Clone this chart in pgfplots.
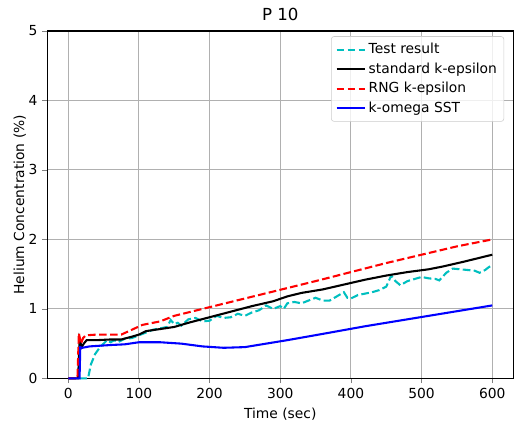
\documentclass[border=0pt]{standalone}
\usepackage{pgfplots}
\pgfplotsset{compat=1.18}
\usepackage{fontspec}
\setmainfont{DejaVu Sans}
\definecolor{mplc}{rgb}{0,0.75,0.75}
\definecolor{gridgray}{HTML}{B0B0B0}
\begin{document}
\begin{tikzpicture}
\begin{axis}[
  scale only axis,
  width=337pt,
  height=251pt,
  xmin=-30, xmax=630,
  ymin=0, ymax=5,
  xtick={0,100,...,600},
  ytick={0,1,...,5},
  grid=major,
  grid style={gridgray, line width=0.8pt},
  tick align=outside,
  major tick length=3.5pt,
  tick pos=left,
  tick label style={font=\fontsize{10}{12}\selectfont},
  /pgf/number format/assume math mode=true,
  axis line style={line width=0.8pt},
  title={P 10},
  title style={font=\fontsize{12}{14}\selectfont, yshift=-2pt},
  xlabel={Time (sec)},
  ylabel={Helium Concentration (\%)},
  ylabel style={yshift=-5pt},
  label style={font=\fontsize{10}{12}\selectfont},
  legend cell align=left,
  legend style={at={(0.98,0.985)}, anchor=north east, draw=black!20, rounded corners=2pt,
    fill=white, fill opacity=0.8, text opacity=1, font=\fontsize{10}{12}\selectfont,
    row sep=1pt, inner sep=3pt},
  legend image code/.code={\draw[#1] (0cm,0cm) -- (0.72cm,0cm);},
  every axis plot/.append style={line width=1.5pt},
  clip=false,
]
\addplot[mplc, dash pattern=on 5.55pt off 2.4pt] coordinates {
  (0,0) (28,0) (32,0.2) (38,0.35) (45,0.45) (50,0.5) (55,0.55) (60,0.52) (65,0.55) (70,0.52)
  (80,0.57) (90,0.58) (100,0.62) (110,0.66) (120,0.7) (130,0.72) (140,0.74) (145,0.84)
  (150,0.78) (155,0.8) (160,0.76) (170,0.85) (180,0.87) (190,0.82) (200,0.83) (210,0.9)
  (220,0.87) (230,0.88) (240,0.93) (250,0.9) (260,0.95) (270,0.98) (280,1.05) (290,1.0)
  (300,1.04) (305,1.0) (310,1.08) (320,1.1) (330,1.08) (340,1.12) (350,1.16) (360,1.12)
  (370,1.12) (380,1.18) (390,1.24) (395,1.16) (400,1.15) (410,1.2) (420,1.22) (430,1.24)
  (440,1.27) (450,1.32) (457,1.48) (463,1.4) (470,1.34) (480,1.4) (490,1.43) (500,1.46)
  (510,1.44) (520,1.43) (525,1.41) (535,1.52) (544,1.58) (555,1.57) (565,1.56) (575,1.55)
  (582,1.52) (590,1.56) (595,1.6) (600,1.63)
};
\addlegendentry{Test result}
\addplot[black] coordinates {
  (0,0) (14,0) (16,0.56) (19,0.45) (22,0.5) (26,0.55) (40,0.55) (60,0.56) (75,0.56)
  (90,0.6) (100,0.63) (110,0.68) (130,0.71) (150,0.74) (170,0.8) (200,0.88) (230,0.96)
  (260,1.04) (290,1.11) (310,1.18) (330,1.23) (360,1.28) (390,1.35) (420,1.42) (450,1.48)
  (480,1.53) (510,1.57) (530,1.61) (560,1.68) (600,1.78)
};
\addlegendentry{standard k-epsilon}
\addplot[red, dash pattern=on 5.55pt off 2.4pt] coordinates {
  (0,0) (13,0) (15,0.65) (18,0.5) (21,0.58) (25,0.62) (40,0.63) (75,0.63) (90,0.7)
  (105,0.77) (130,0.82) (150,0.9) (190,1.0) (230,1.1) (270,1.2) (310,1.3) (350,1.4)
  (400,1.53) (450,1.66) (500,1.78) (550,1.9) (600,2.0)
};
\addlegendentry{RNG k-epsilon}
\addplot[blue] coordinates {
  (0,0) (16,0) (17,0.45) (20,0.44) (30,0.46) (60,0.48) (80,0.49) (100,0.52) (130,0.52)
  (160,0.5) (190,0.46) (220,0.44) (250,0.45) (280,0.5) (310,0.55) (360,0.64) (420,0.75)
  (480,0.85) (540,0.95) (600,1.05)
};
\addlegendentry{k-omega SST}
\path (rel axis cs:0,0) ++(-34pt,0pt);
\path (rel axis cs:0,1) ++(0pt,22.4pt);
\end{axis}
\end{tikzpicture}
\end{document}
